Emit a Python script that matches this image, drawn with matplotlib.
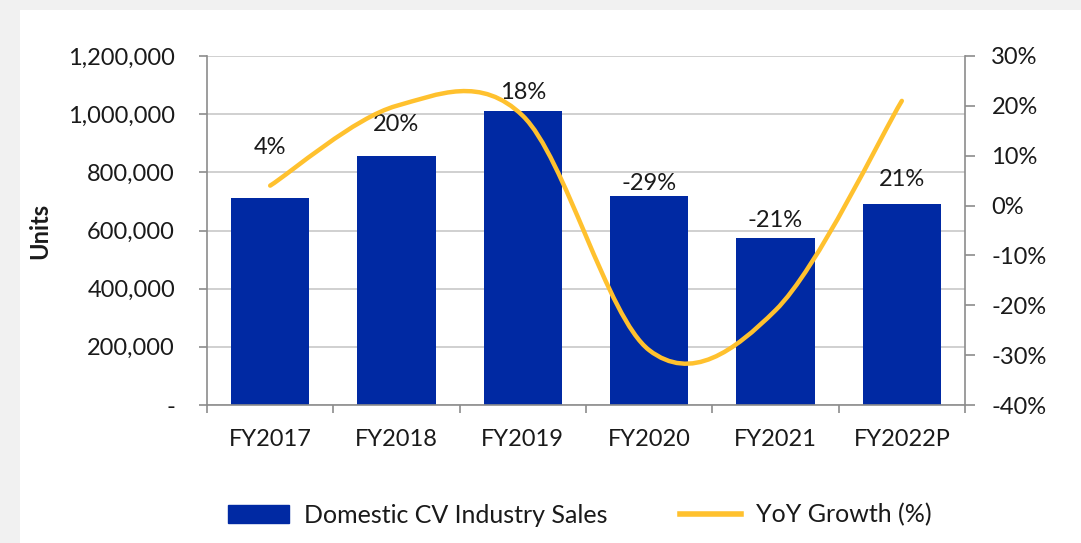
import matplotlib
matplotlib.use("Agg")
import matplotlib.pyplot as plt
import numpy as np
from matplotlib.path import Path
from matplotlib.patches import PathPatch, Rectangle
from matplotlib.lines import Line2D
from matplotlib.ticker import FuncFormatter

# Data
years = ["FY2017", "FY2018", "FY2019", "FY2020", "FY2021", "FY2022P"]
sales = [712000, 857000, 1010000, 718000, 574000, 691000]
growth = [4, 20, 18, -29, -21, 21]
growth_labels = ["4%", "20%", "18%", "-29%", "-21%", "21%"]
label_y = [887000, 966000, 1073000, 760000, 633000, 774000]

bar_color = "#0029A3"
line_color = "#FFC12E"
grid_color = "#C8C8C8"
axis_color = "#8C8C8C"
text_color = "#1A1A1A"

plt.rcParams["font.family"] = ["Lato", "DejaVu Sans"]
fs = 17

fig = plt.figure(figsize=(10.81, 5.43), dpi=100)
fig.patch.set_facecolor("#F1F1F1")
fig.add_artist(Rectangle((20 / 1081, 0), 1, 1 - 10 / 543, transform=fig.transFigure,
                         facecolor="white", edgecolor="none", zorder=0))

ax = fig.add_axes([207 / 1081, 1 - 405 / 543, (965 - 207) / 1081, (405 - 56) / 543])
ax.set_facecolor("none")
x = np.arange(len(years))
ax.bar(x, sales, width=0.62, color=bar_color, zorder=2, label="Domestic CV Industry Sales")
ax.set_xlim(-0.5, len(years) - 0.5)
ax.set_ylim(0, 1200000)
ax.set_yticks(np.arange(0, 1200001, 200000))
ax.yaxis.set_major_formatter(FuncFormatter(lambda v, p: "-" if v == 0 else f"{int(v):,}"))
ax.yaxis.grid(True, color=grid_color, linewidth=1.2, zorder=0)
ax.set_axisbelow(True)
ax.set_xticks(x)
ax.set_xticklabels(years)
ax.set_xticks(np.arange(-0.5, len(years)), minor=True)
ax.tick_params(axis="x", which="major", length=0, pad=17, labelsize=fs, labelcolor=text_color)
ax.tick_params(axis="x", which="minor", length=6, width=1.2, color=axis_color, direction="out")
ax.tick_params(axis="y", length=6, width=1.2, color=axis_color, pad=17, labelsize=fs,
               labelcolor=text_color)
for s in ["top", "right"]:
    ax.spines[s].set_visible(False)
for s in ["left", "bottom"]:
    ax.spines[s].set_color(axis_color)
    ax.spines[s].set_linewidth(1.2)
ax.set_ylabel("Units", fontsize=fs, color=text_color, labelpad=12, fontweight="bold")

for xi, lbl, ly in zip(x, growth_labels, label_y):
    ax.text(xi, ly, lbl, ha="center", va="center", fontsize=fs, color=text_color, zorder=5)

ax2 = ax.twinx()
ax2.set_ylim(-40, 30)
ax2.set_yticks(np.arange(-40, 31, 10))
ax2.yaxis.set_major_formatter(FuncFormatter(lambda v, p: f"{int(v)}%"))
ax2.tick_params(axis="y", length=7, width=1.2, color=axis_color, pad=12, labelsize=fs,
                labelcolor=text_color)
for s in ["top", "left", "bottom"]:
    ax2.spines[s].set_visible(False)
ax2.spines["right"].set_color(axis_color)
ax2.spines["right"].set_linewidth(1.2)

# smoothed line (Catmull-Rom style, as Excel draws it)
pts = np.column_stack([x, growth]).astype(float)
verts = [tuple(pts[0])]
codes = [Path.MOVETO]
n = len(pts)
for i in range(n - 1):
    p0 = pts[max(i - 1, 0)]
    p1 = pts[i]
    p2 = pts[i + 1]
    p3 = pts[min(i + 2, n - 1)]
    c1 = p1 + (p2 - p0) / 6
    c2 = p2 - (p3 - p1) / 6
    verts += [tuple(c1), tuple(c2), tuple(p2)]
    codes += [Path.CURVE4] * 3
ax2.add_patch(PathPatch(Path(verts, codes), facecolor="none", edgecolor=line_color,
                        linewidth=3.2, zorder=4, capstyle="round"))

handles = [Rectangle((0, 0), 1, 1, color=bar_color),
           Line2D([0], [0], color=line_color, linewidth=4)]
fig.legend(handles, ["Domestic CV Industry Sales", "YoY Growth (%)"], loc="center",
           bbox_to_anchor=(580 / 1081, 1 - 515 / 543), ncol=2, frameon=False, fontsize=18,
           handlelength=2.45, handleheight=0.75, columnspacing=2.9, handletextpad=0.6,
           labelcolor=text_color)

fig.savefig("out.png", dpi=100, facecolor=fig.get_facecolor())
